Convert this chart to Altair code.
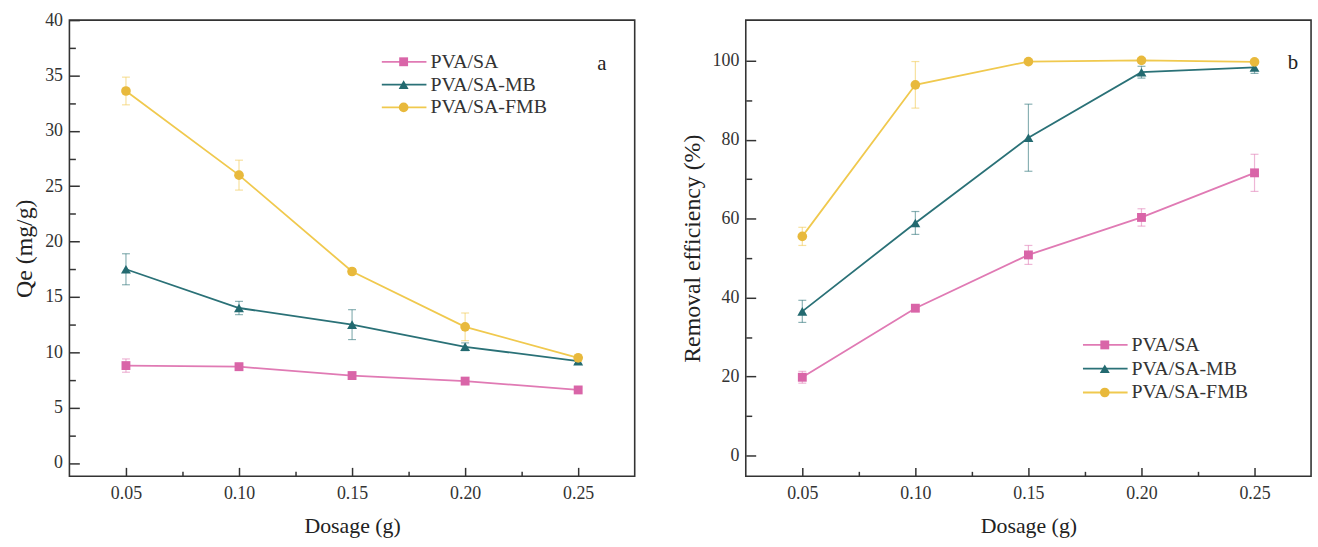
import altair as alt
import pandas as pd

dosage = [0.05, 0.10, 0.15, 0.20, 0.25]
series_names = ["PVA/SA", "PVA/SA-MB", "PVA/SA-FMB"]

# Panel a: Qe (mg/g)
qe_sa = [8.8, 8.7, 7.9, 7.4, 6.6]
qe_sa_err = [0.6, 0.3, 0.3, 0.3, 0.25]
qe_mb = [17.5, 14.0, 12.5, 10.5, 9.2]
qe_mb_err = [1.4, 0.6, 1.35, 0.35, 0.25]
qe_fmb = [33.6, 26.0, 17.3, 12.3, 9.5]
qe_fmb_err = [1.25, 1.35, 0.25, 1.25, 0.3]

# Panel b: Removal efficiency (%)
re_sa = [19.8, 37.3, 50.8, 60.3, 71.6]
re_sa_err = [1.5, 0.8, 2.4, 2.2, 4.7]
re_mb = [36.5, 58.9, 80.5, 97.1, 98.3]
re_mb_err = [2.8, 2.9, 8.5, 1.5, 1.5]
re_fmb = [55.5, 93.9, 99.8, 100.1, 99.7]
re_fmb_err = [2.3, 5.9, 0.5, 0.6, 0.5]

line_colors = ["#e07ab4", "#2a7177", "#f0c94e"]
point_colors = ["#d965a8", "#236a70", "#e8b93c"]
point_shapes = ["square", "triangle-up", "circle"]
point_sizes = [80, 100, 95]
legend_rows = [0, 1, 2]

x_domain = [0.025, 0.275]
x_minor = [0.075, 0.125, 0.175, 0.225]

SERIF = "Liberation Serif"


def make_panel(vals, errs, ytitle, ydomain, ymajor, yminor, leg_x, leg_y, leg_step, letter, letter_x, letter_y):
    rows = []
    for s, v, e in zip(series_names, vals, errs):
        for d, vi, ei in zip(dosage, v, e):
            rows.append({"dosage": d, "series": s, "value": vi, "lo": vi - ei, "hi": vi + ei})
    df = pd.DataFrame(rows)
    base = alt.Chart(df)
    leg_df = pd.DataFrame({"series": series_names, "row": legend_rows})
    leg_base = alt.Chart(leg_df)

    xscale = alt.Scale(domain=x_domain, nice=False, zero=False)
    yscale = alt.Scale(domain=ydomain, nice=False, zero=False)
    leg_yscale = alt.Scale(domain=[0, 2], range=[leg_y, leg_y + 2 * leg_step], nice=False, zero=False)
    color = alt.Color("series:N", scale=alt.Scale(domain=series_names, range=line_colors), legend=None)

    x_major_axis = alt.Axis(orient="bottom", values=dosage, format=".2f", tickSize=9, offset=-9,
                            labelPadding=8, title="Dosage (g)", titlePadding=14, domain=False, grid=False)
    x_minor_axis = alt.Axis(orient="bottom", values=x_minor, tickSize=5, offset=-5, labels=False,
                            title=None, domain=False, grid=False)
    y_major_axis = alt.Axis(orient="left", values=ymajor, tickSize=10, offset=-10, labelPadding=7,
                            title=ytitle, titlePadding=8, domain=False, grid=False)
    y_minor_axis = alt.Axis(orient="left", values=yminor, tickSize=6, offset=-6, labels=False,
                            title=None, domain=False, grid=False)

    rules = base.mark_rule(strokeWidth=1.2, opacity=0.55).encode(
        x=alt.X("dosage:Q", scale=xscale, axis=x_minor_axis),
        y=alt.Y("lo:Q", scale=yscale, axis=y_minor_axis),
        y2="hi:Q",
        color=color,
    )
    caps = base.transform_fold(["lo", "hi"], as_=["which", "yv"]).mark_tick(
        orient="horizontal", size=8, thickness=1.2, opacity=0.55
    ).encode(
        x=alt.X("dosage:Q", scale=xscale, axis=None),
        y=alt.Y("yv:Q", scale=yscale, axis=None),
        color=color,
    )
    lines = base.mark_line(strokeWidth=1.8).encode(
        x=alt.X("dosage:Q", scale=xscale, axis=x_major_axis),
        y=alt.Y("value:Q", scale=yscale, axis=y_major_axis),
        color=color,
        detail="series:N",
    )
    point_layers = []
    legend_markers = []
    for name, shp, col, sz in zip(series_names, point_shapes, point_colors, point_sizes):
        point_layers.append(
            base.transform_filter(alt.datum.series == name).mark_point(
                filled=True, opacity=1, shape=shp, size=sz, color=col
            ).encode(
                x=alt.X("dosage:Q", scale=xscale, axis=None),
                y=alt.Y("value:Q", scale=yscale, axis=None),
            )
        )
        legend_markers.append(
            leg_base.transform_filter(alt.datum.series == name).mark_point(
                filled=True, opacity=1, shape=shp, size=sz, color=col
            ).encode(
                x=alt.value(leg_x + 22),
                y=alt.Y("row:Q", scale=leg_yscale, axis=None),
            )
        )
    legend_lines = leg_base.mark_rule(strokeWidth=1.8).encode(
        x=alt.value(leg_x),
        x2=alt.value(leg_x + 45),
        y=alt.Y("row:Q", scale=leg_yscale, axis=None),
        color=color,
    )
    legend_text = leg_base.mark_text(
        font=SERIF, fontSize=20, color="#333", align="left", baseline="middle"
    ).encode(
        x=alt.value(leg_x + 49),
        y=alt.Y("row:Q", scale=leg_yscale, axis=None),
        text="series:N",
    )
    text = alt.Chart(pd.DataFrame({"t": [letter]})).mark_text(
        font=SERIF, fontSize=21, color="#222", align="center", baseline="middle"
    ).encode(
        x=alt.XDatum(letter_x, type="quantitative", scale=xscale, axis=None),
        y=alt.YDatum(letter_y, type="quantitative", scale=yscale, axis=None),
        text="t:N",
    )
    return alt.layer(
        rules, caps, lines, *point_layers, legend_lines, *legend_markers, legend_text, text
    ).resolve_scale(y="independent").resolve_axis(
        x="independent", y="independent"
    ).properties(width=570, height=460)


left = make_panel(
    [qe_sa, qe_mb, qe_fmb], [qe_sa_err, qe_mb_err, qe_fmb_err], "Qe (mg/g)",
    [-1.2, 40], list(range(0, 41, 5)), [2.5 + 5 * i for i in range(8)],
    315, 42, 23, "a", 0.2605, 36.0,
)
right = make_panel(
    [re_sa, re_mb, re_fmb], [re_sa_err, re_mb_err, re_fmb_err], "Removal efficiency (%)",
    [-5.3, 110.3], list(range(0, 101, 20)), [10, 30, 50, 70, 90],
    340, 327.5, 24, "b", 0.267, 99.3,
)

chart = alt.hconcat(left, right, spacing=112, bounds="flush").resolve_scale(
    color="independent", x="independent", y="independent",
).configure(
    padding={"left": 12, "top": 8, "right": 6, "bottom": 8}, background="white"
).configure_view(
    stroke="#333", strokeWidth=1.6
).configure_axis(
    labelFont=SERIF, labelFontSize=18, labelColor="#333",
    titleFont=SERIF, titleFontSize=22, titleFontWeight="normal", titleColor="#222",
    tickColor="#333", tickWidth=1.5, grid=False, domain=False,
).configure_axisLeft(
    titleFontSize=24
)

chart.save("out.html", embed_options={"renderer": "svg", "actions": False})
